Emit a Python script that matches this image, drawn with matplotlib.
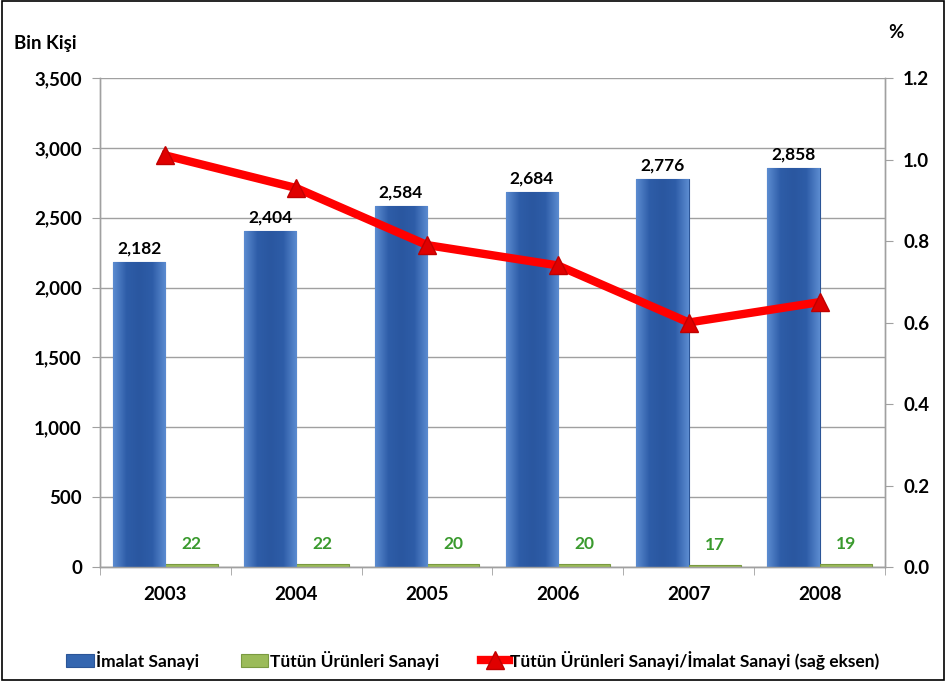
import matplotlib
matplotlib.use("Agg")
import matplotlib.pyplot as plt
import numpy as np
from matplotlib.patches import Rectangle
from matplotlib.colors import LinearSegmentedColormap

plt.rcParams['font.family'] = ['Lato', 'DejaVu Sans']

years = ["2003", "2004", "2005", "2006", "2007", "2008"]
imalat = [2182, 2404, 2584, 2684, 2776, 2858]
tutun = [22, 22, 20, 20, 17, 19]
oran = [1.01, 0.93, 0.79, 0.74, 0.60, 0.65]

fig = plt.figure(figsize=(9.46, 6.81), dpi=100)
ax = fig.add_axes([100/946, 1-567/681, 785/946, 489/681])
ax2 = ax.twinx()

x = np.arange(len(years))
w = 0.4
blue = "#3466B0"
green = "#9BBB59"
b1 = ax.bar(x - w/2, imalat, w, color=blue, edgecolor="#2B5597", linewidth=0.8, zorder=3,
            label="İmalat Sanayi")
b2 = ax.bar(x + w/2, tutun, w, color=green, edgecolor="#7A9A40", linewidth=0.8, zorder=3,
            label="Tütün Ürünleri Sanayi")

# subtle horizontal gradient on the blue bars
cmap = LinearSegmentedColormap.from_list("bg", ["#5B8BD0", "#2E5DA8", "#2A57A0", "#2E5DA8", "#5B8BD0"])
grad = np.linspace(0, 1, 64).reshape(1, -1)
for p in b1.patches:
    x0, y0 = p.get_x(), p.get_y()
    im = ax.imshow(grad, cmap=cmap, aspect="auto", extent=(x0, x0 + p.get_width(), y0, y0 + p.get_height()),
                   zorder=3.5)
    im.set_clip_path(p)
ax.set_aspect("auto")

for xi, v in zip(x, imalat):
    ax.text(xi - w/2, v + 40, f"{v:,}", ha="center", va="bottom", fontsize=12.5,
            fontweight="bold", color="black")
for xi, v in zip(x, tutun):
    ax.text(xi + w/2, v + 85, f"{v}", ha="center", va="bottom", fontsize=12.5,
            fontweight="bold", color="#3A9A2E")

ln, = ax2.plot(x, oran, color="#FF0000", linewidth=6, marker="^", markersize=13,
               markerfacecolor="#E00000", markeredgecolor="#C00000", zorder=5,
               label="Tütün Ürünleri Sanayi/İmalat Sanayi (sağ eksen)")

ax.set_xlim(-0.5, len(years) - 0.5)
ax.set_ylim(0, 3500)
ax2.set_ylim(0, 1.2)
ax.set_yticks(np.arange(0, 3501, 500))
ax.set_yticklabels([f"{v:,}" for v in range(0, 3501, 500)])
ax2.set_yticks(np.arange(0, 1.21, 0.2))
ax2.set_yticklabels([f"{v:.1f}" for v in np.arange(0, 1.21, 0.2)])
ax.grid(axis="y", color="#A0A0A0", linewidth=1, zorder=0)
ax.set_axisbelow(True)

ax.set_xticks(x)
ax.set_xticklabels(years)
ax.set_xticks(np.arange(-0.5, len(years), 1), minor=True)
ax.tick_params(axis="x", which="major", length=0, pad=14, labelsize=13.5)
ax.tick_params(axis="x", which="minor", length=6, color="#A0A0A0")
ax.tick_params(axis="y", length=6, color="#A0A0A0", labelsize=13.5, pad=7)
ax2.tick_params(axis="y", length=6, color="#A0A0A0", labelsize=13.5, pad=7)
for lab in ax.get_xticklabels() + ax.get_yticklabels() + ax2.get_yticklabels():
    lab.set_fontweight("bold")

for a in (ax, ax2):
    a.spines["top"].set_visible(False)
    for s in ("left", "right", "bottom"):
        a.spines[s].set_color("#A0A0A0")
        a.spines[s].set_linewidth(1)

fig.text(14/946, 1-44/681, "Bin Kişi", fontsize=13.5, fontweight="bold", ha="left", va="center")
fig.text(896/946, 1-33/681, "%", fontsize=13.5, fontweight="bold", ha="center", va="center")

leg = fig.legend(handles=[b1, b2, ln], loc="center", bbox_to_anchor=(473/946, 1-660/681),
                 ncol=3, frameon=False, fontsize=12.5, handlelength=1.6, handletextpad=0.1,
                 columnspacing=2.4)
for t in leg.get_texts():
    t.set_fontweight("bold")

fig.add_artist(Rectangle((0.002, 0.002), 0.996, 0.996, transform=fig.transFigure,
                         fill=False, edgecolor="black", linewidth=1.2))

fig.savefig("out.png", dpi=100)
